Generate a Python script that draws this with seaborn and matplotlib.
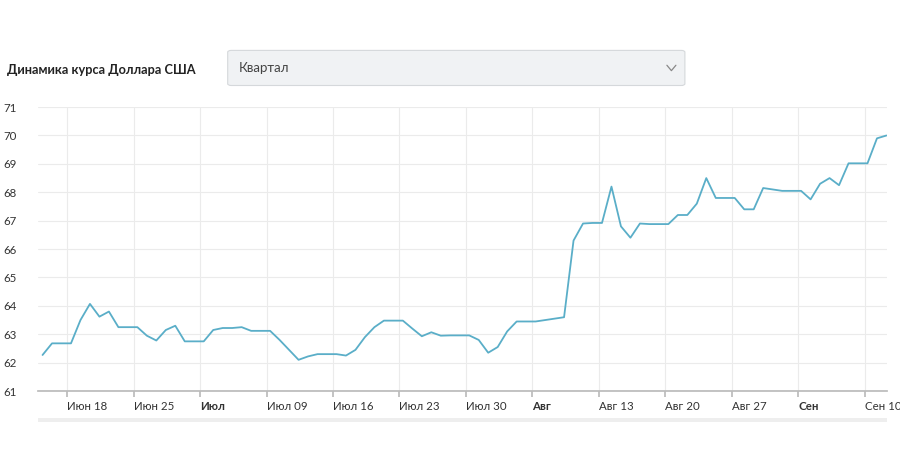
import matplotlib
matplotlib.use("Agg")
import matplotlib.pyplot as plt
import seaborn as sns
import numpy as np
import pandas as pd
from matplotlib.patches import FancyBboxPatch

values = [62.27, 62.68, 62.68, 62.68, 63.5, 64.07, 63.62, 63.8, 63.25, 63.25, 63.25, 62.95,
          62.78, 63.15, 63.3, 62.75, 62.75, 62.75, 63.15, 63.22, 63.22, 63.25, 63.12, 63.12,
          63.12, 62.8, 62.45, 62.1, 62.22, 62.3, 62.3, 62.3, 62.25, 62.45, 62.9, 63.25,
          63.48, 63.48, 63.48, 63.2, 62.93, 63.07, 62.95, 62.96,
          62.96, 62.96, 62.8, 62.35, 62.55, 63.1, 63.45, 63.45, 63.45, 63.5, 63.55, 63.6,
          66.3, 66.9, 66.92, 66.92, 68.2, 66.8, 66.4, 66.9, 66.88, 66.88, 66.88, 67.2,
          67.2, 67.6, 68.5, 67.8, 67.8, 67.8, 67.4, 67.4, 68.15, 68.1, 68.05, 68.05,
          68.05, 67.75, 68.3, 68.5, 68.25, 69.02, 69.02, 69.02, 69.9, 70.0]
tick_labels = ["Июн 18", "Июн 25", "Июл", "Июл 09", "Июл 16", "Июл 23", "Июл 30",
               "Авг", "Авг 13", "Авг 20", "Авг 27", "Сен", "Сен 10"]
bold_labels = ["Июл", "Авг", "Сен"]
yticks = list(range(61, 72))

df = pd.DataFrame({"x": np.arange(len(values)), "y": values})

sns.set_theme(style="white")
plt.rcParams["font.family"] = ["Lato", "DejaVu Sans"]

fig = plt.figure(figsize=(9, 4.5), dpi=100)
ax = fig.add_axes([0.042, 0.131, 0.944, 0.631])
sns.lineplot(data=df, x="x", y="y", ax=ax, color="#5aaec8", linewidth=1.3)

n = len(values)
step = (n - 1 - 2.6) / (len(tick_labels) - 1 + 0.33)
tick_pos = [2.6 + step * i for i in range(len(tick_labels))]
ax.set_xlim(-0.5, n - 1 + 0.1)
ax.set_ylim(61, 71)
ax.set_yticks(yticks)
ax.set_xticks(tick_pos)
ax.set_xticklabels(tick_labels)
for t in ax.get_xticklabels():
    t.set_ha("left")
    t.set_fontsize(8.3)
    t.set_color("#333333")
    if t.get_text() in bold_labels:
        t.set_fontweight("bold")
for t in ax.get_yticklabels():
    t.set_fontsize(8.3)
    t.set_color("#333333")
ax.tick_params(axis="y", length=0, pad=15)
ax.tick_params(axis="x", length=4, color="#bbbbbb", pad=3, direction="out", bottom=True)
ax.grid(True, color="#ebebeb", linewidth=0.8)
for s in ["top", "right", "left"]:
    ax.spines[s].set_visible(False)
ax.spines["bottom"].set_color("#bbbbbb")
ax.set_xlabel("")
ax.set_ylabel("")

fig.text(0.008, 0.845, "Динамика курса Доллара США", fontsize=9.2, fontweight="bold",
         color="#222222", va="center")
box = FancyBboxPatch((0.253, 0.81), 0.508, 0.078, boxstyle="round,pad=0,rounding_size=0.004",
                     transform=fig.transFigure, facecolor="#f0f2f4", edgecolor="#d5d8db", linewidth=0.8)
fig.patches.append(box)
fig.text(0.265, 0.85, "Квартал", fontsize=9.5, color="#444444", va="center")
fig.lines.append(plt.Line2D([0.741, 0.746, 0.751], [0.855, 0.843, 0.855], transform=fig.transFigure,
                            color="#888888", linewidth=0.9))
fig.patches.append(plt.Rectangle((0.042, 0.062), 0.944, 0.01, transform=fig.transFigure,
                                 facecolor="#eeeeee", edgecolor="none"))
fig.savefig("out.png", dpi=100)
